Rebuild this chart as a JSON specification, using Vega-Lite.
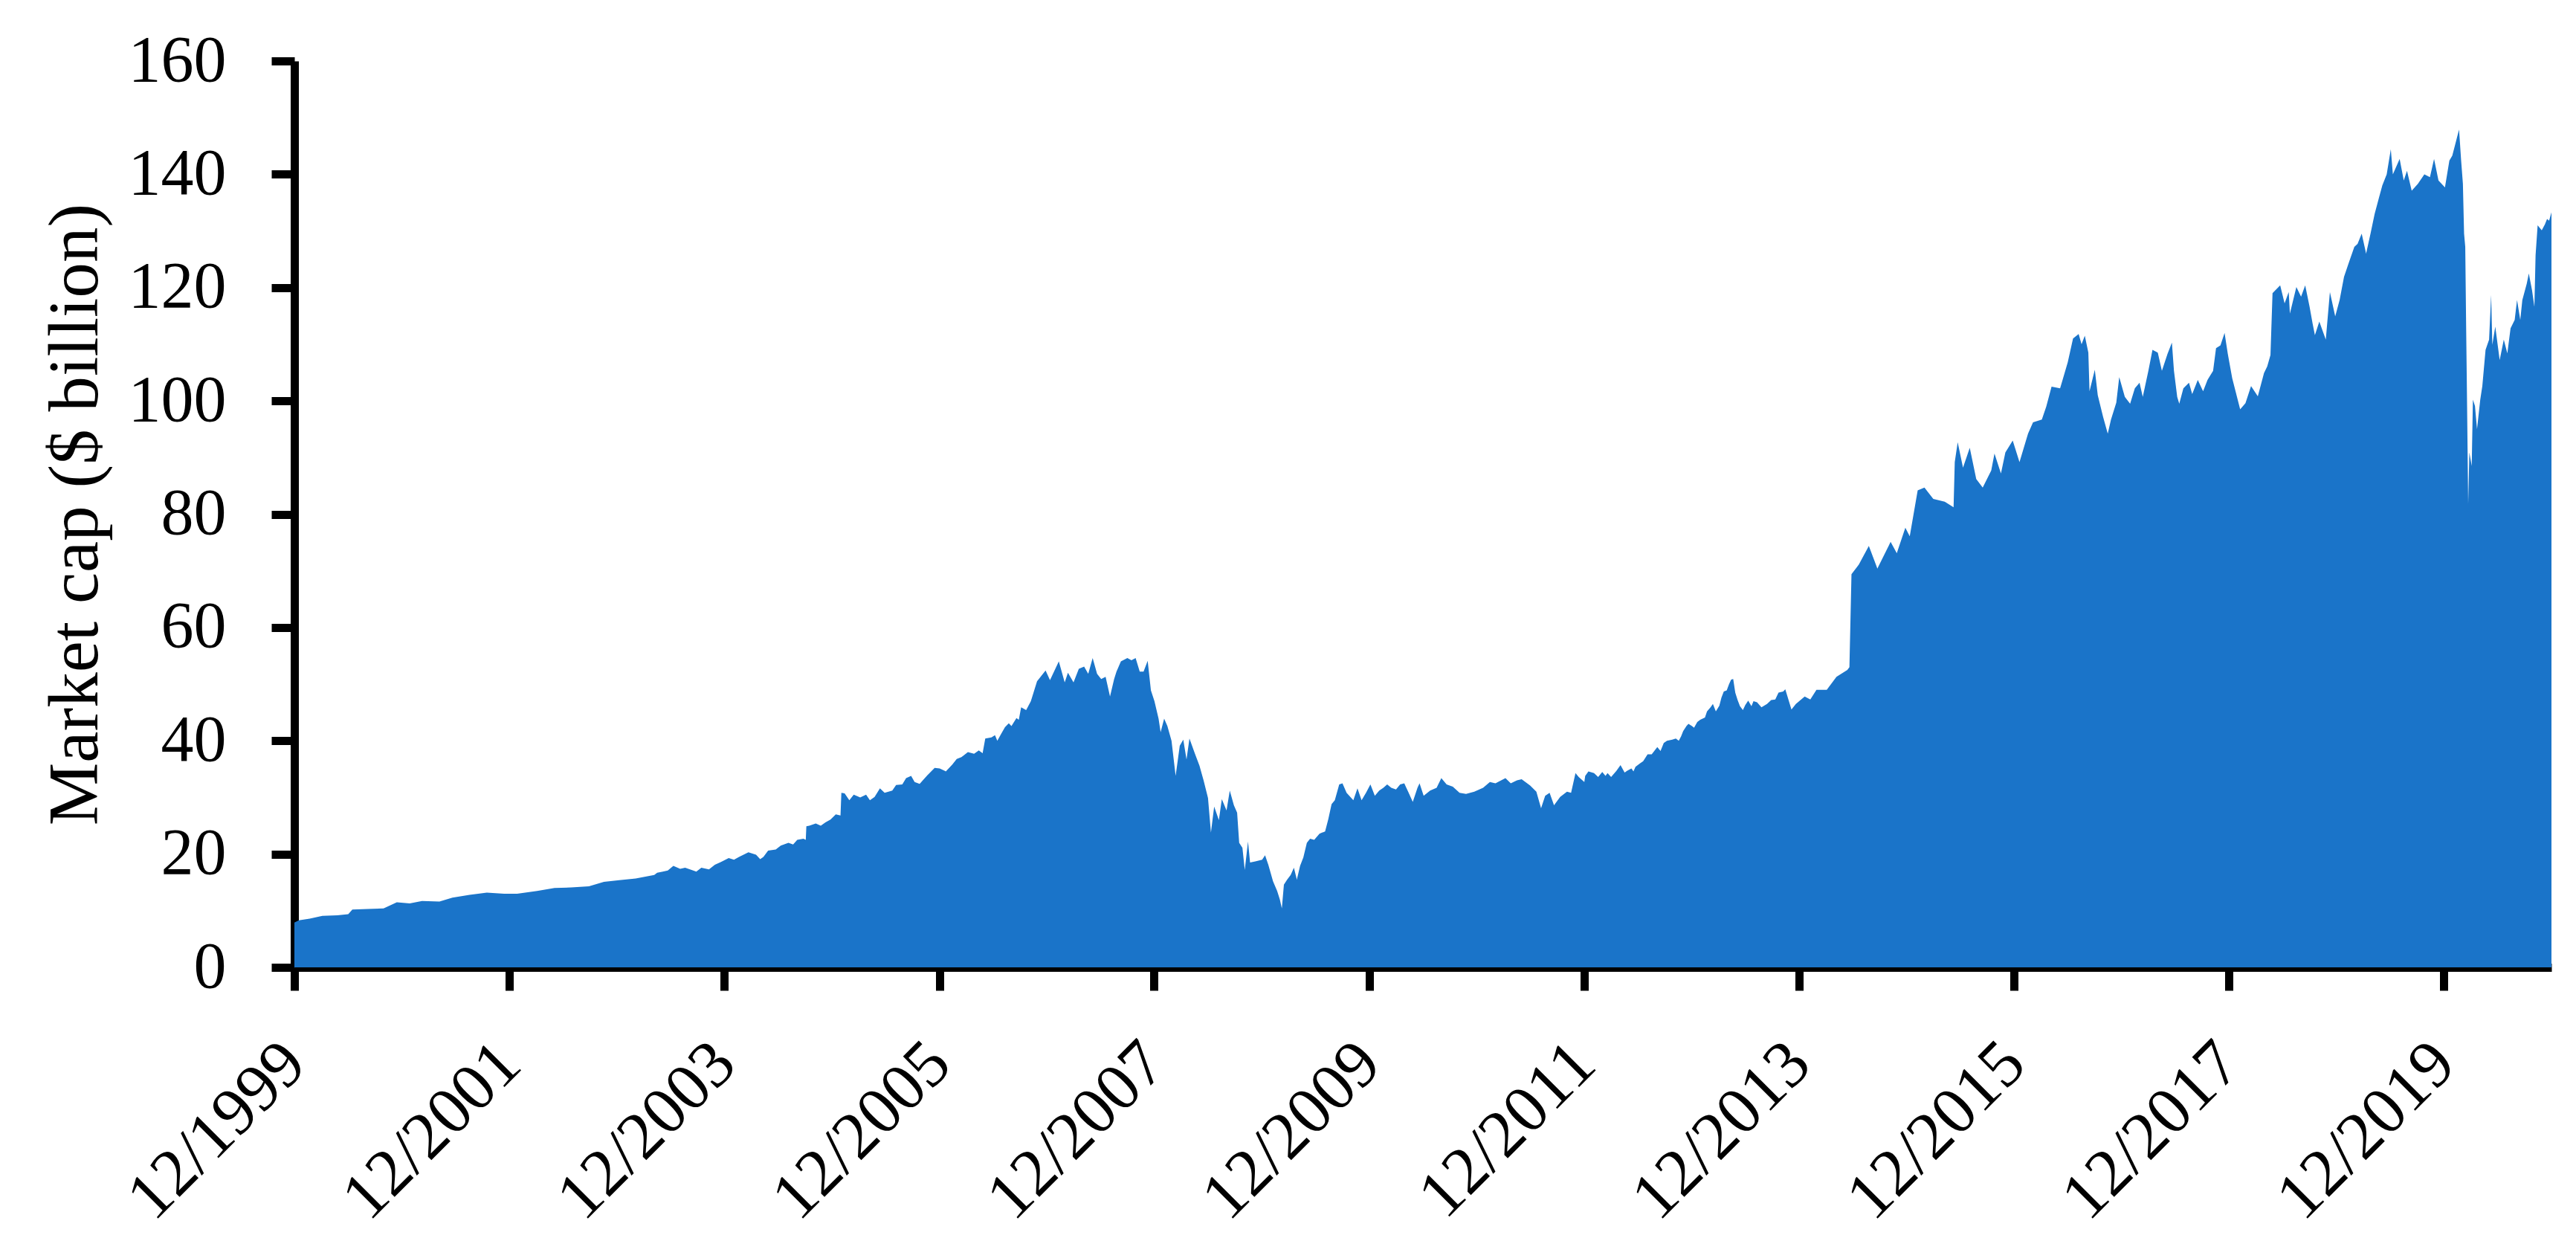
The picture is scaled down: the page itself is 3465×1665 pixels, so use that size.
{
  "$schema": "https://vega.github.io/schema/vega-lite/v6.json",
  "width": 3036,
  "height": 1219,
  "autosize": {"type": "none"},
  "padding": {"left": 396, "top": 82, "right": 33, "bottom": 364},
  "background": "white",
  "config": {"view": {"stroke": null}, "font": "Liberation Serif"},
  "data": {"values": [
    {"date": "1999-12-31", "cap": 7.9},
    {"date": "2000-01-15", "cap": 8.3},
    {"date": "2000-02-21", "cap": 8.6},
    {"date": "2000-04-04", "cap": 9.1},
    {"date": "2000-05-25", "cap": 9.2},
    {"date": "2000-07-01", "cap": 9.4},
    {"date": "2000-07-15", "cap": 10.2},
    {"date": "2000-09-05", "cap": 10.3},
    {"date": "2000-10-29", "cap": 10.4},
    {"date": "2000-12-13", "cap": 11.5},
    {"date": "2001-01-26", "cap": 11.3},
    {"date": "2001-03-09", "cap": 11.7},
    {"date": "2001-05-07", "cap": 11.6},
    {"date": "2001-06-20", "cap": 12.3},
    {"date": "2001-08-17", "cap": 12.8},
    {"date": "2001-10-15", "cap": 13.2},
    {"date": "2001-12-13", "cap": 13.0},
    {"date": "2002-01-26", "cap": 13.0},
    {"date": "2002-04-04", "cap": 13.5},
    {"date": "2002-06-02", "cap": 14.0},
    {"date": "2002-07-29", "cap": 14.1},
    {"date": "2002-09-27", "cap": 14.3},
    {"date": "2002-11-17", "cap": 15.1},
    {"date": "2003-01-08", "cap": 15.4},
    {"date": "2003-03-05", "cap": 15.7},
    {"date": "2003-05-07", "cap": 16.3},
    {"date": "2003-05-17", "cap": 16.7},
    {"date": "2003-06-05", "cap": 16.9},
    {"date": "2003-06-22", "cap": 17.1},
    {"date": "2003-07-11", "cap": 17.9},
    {"date": "2003-08-03", "cap": 17.4},
    {"date": "2003-08-20", "cap": 17.6},
    {"date": "2003-09-11", "cap": 17.2},
    {"date": "2003-09-27", "cap": 16.9},
    {"date": "2003-10-14", "cap": 17.6},
    {"date": "2003-11-09", "cap": 17.3},
    {"date": "2003-11-29", "cap": 18.1},
    {"date": "2003-12-20", "cap": 18.6},
    {"date": "2004-01-15", "cap": 19.3},
    {"date": "2004-02-02", "cap": 19.0},
    {"date": "2004-02-19", "cap": 19.5},
    {"date": "2004-03-22", "cap": 20.3},
    {"date": "2004-04-17", "cap": 19.9},
    {"date": "2004-05-01", "cap": 19.1},
    {"date": "2004-05-12", "cap": 19.5},
    {"date": "2004-05-28", "cap": 20.6},
    {"date": "2004-06-23", "cap": 20.8},
    {"date": "2004-07-10", "cap": 21.5},
    {"date": "2004-08-05", "cap": 22.0},
    {"date": "2004-08-21", "cap": 21.7},
    {"date": "2004-09-04", "cap": 22.5},
    {"date": "2004-09-25", "cap": 22.7},
    {"date": "2004-10-03", "cap": 22.5},
    {"date": "2004-10-05", "cap": 24.9},
    {"date": "2004-10-15", "cap": 25.0},
    {"date": "2004-11-06", "cap": 25.4},
    {"date": "2004-11-23", "cap": 25.0},
    {"date": "2004-12-09", "cap": 25.6},
    {"date": "2004-12-26", "cap": 26.1},
    {"date": "2005-01-13", "cap": 27.0},
    {"date": "2005-01-29", "cap": 26.8},
    {"date": "2005-02-01", "cap": 30.8},
    {"date": "2005-02-12", "cap": 30.7},
    {"date": "2005-02-28", "cap": 29.5},
    {"date": "2005-03-15", "cap": 30.5},
    {"date": "2005-04-06", "cap": 30.0},
    {"date": "2005-04-26", "cap": 30.5},
    {"date": "2005-05-09", "cap": 29.5},
    {"date": "2005-05-25", "cap": 30.1},
    {"date": "2005-06-12", "cap": 31.6},
    {"date": "2005-06-28", "cap": 30.8},
    {"date": "2005-07-24", "cap": 31.2},
    {"date": "2005-08-06", "cap": 32.2},
    {"date": "2005-08-27", "cap": 32.3},
    {"date": "2005-09-09", "cap": 33.4},
    {"date": "2005-09-26", "cap": 33.8},
    {"date": "2005-10-08", "cap": 32.7},
    {"date": "2005-10-25", "cap": 32.4},
    {"date": "2005-11-20", "cap": 33.9},
    {"date": "2005-12-15", "cap": 35.2},
    {"date": "2006-01-01", "cap": 35.1},
    {"date": "2006-01-22", "cap": 34.6},
    {"date": "2006-02-13", "cap": 35.8},
    {"date": "2006-02-28", "cap": 36.8},
    {"date": "2006-03-16", "cap": 37.1},
    {"date": "2006-04-07", "cap": 38.0},
    {"date": "2006-04-28", "cap": 37.7},
    {"date": "2006-05-14", "cap": 38.3},
    {"date": "2006-05-27", "cap": 37.8},
    {"date": "2006-06-05", "cap": 40.4},
    {"date": "2006-06-26", "cap": 40.6},
    {"date": "2006-07-08", "cap": 41.0},
    {"date": "2006-07-16", "cap": 40.0},
    {"date": "2006-07-29", "cap": 41.2},
    {"date": "2006-08-11", "cap": 42.4},
    {"date": "2006-08-24", "cap": 43.1},
    {"date": "2006-09-02", "cap": 42.6},
    {"date": "2006-09-19", "cap": 44.0},
    {"date": "2006-09-27", "cap": 43.7},
    {"date": "2006-10-05", "cap": 45.9},
    {"date": "2006-10-22", "cap": 45.4},
    {"date": "2006-11-07", "cap": 47.0},
    {"date": "2006-11-28", "cap": 50.5},
    {"date": "2006-12-27", "cap": 52.4},
    {"date": "2007-01-11", "cap": 50.7},
    {"date": "2007-02-10", "cap": 54.0},
    {"date": "2007-03-02", "cap": 50.3},
    {"date": "2007-03-13", "cap": 52.0},
    {"date": "2007-04-01", "cap": 50.3},
    {"date": "2007-04-19", "cap": 52.7},
    {"date": "2007-05-07", "cap": 53.1},
    {"date": "2007-05-21", "cap": 51.8},
    {"date": "2007-06-05", "cap": 54.6},
    {"date": "2007-06-20", "cap": 51.8},
    {"date": "2007-07-04", "cap": 50.9},
    {"date": "2007-07-19", "cap": 51.3},
    {"date": "2007-08-03", "cap": 47.8},
    {"date": "2007-08-17", "cap": 50.9},
    {"date": "2007-08-25", "cap": 52.2},
    {"date": "2007-09-09", "cap": 54.0},
    {"date": "2007-10-01", "cap": 54.6},
    {"date": "2007-10-15", "cap": 54.2},
    {"date": "2007-10-29", "cap": 54.6},
    {"date": "2007-11-12", "cap": 52.2},
    {"date": "2007-11-25", "cap": 52.2},
    {"date": "2007-12-09", "cap": 54.1},
    {"date": "2007-12-20", "cap": 48.9},
    {"date": "2008-01-01", "cap": 47.0},
    {"date": "2008-01-15", "cap": 43.9},
    {"date": "2008-01-22", "cap": 41.5},
    {"date": "2008-02-03", "cap": 43.9},
    {"date": "2008-02-14", "cap": 42.6},
    {"date": "2008-02-28", "cap": 40.0},
    {"date": "2008-03-13", "cap": 33.8},
    {"date": "2008-03-27", "cap": 39.1},
    {"date": "2008-04-08", "cap": 40.2},
    {"date": "2008-04-19", "cap": 36.7},
    {"date": "2008-04-29", "cap": 40.4},
    {"date": "2008-05-17", "cap": 37.8},
    {"date": "2008-06-02", "cap": 35.6},
    {"date": "2008-06-16", "cap": 33.0},
    {"date": "2008-07-01", "cap": 29.9},
    {"date": "2008-07-11", "cap": 23.8},
    {"date": "2008-07-22", "cap": 28.4},
    {"date": "2008-08-07", "cap": 26.0},
    {"date": "2008-08-17", "cap": 29.7},
    {"date": "2008-09-02", "cap": 27.7},
    {"date": "2008-09-13", "cap": 31.2},
    {"date": "2008-09-27", "cap": 28.6},
    {"date": "2008-10-08", "cap": 27.3},
    {"date": "2008-10-15", "cap": 22.0},
    {"date": "2008-10-26", "cap": 21.1},
    {"date": "2008-11-03", "cap": 17.2},
    {"date": "2008-11-14", "cap": 22.2},
    {"date": "2008-11-21", "cap": 18.5},
    {"date": "2008-12-09", "cap": 18.7},
    {"date": "2009-01-01", "cap": 19.0},
    {"date": "2009-01-11", "cap": 19.8},
    {"date": "2009-01-22", "cap": 18.1},
    {"date": "2009-02-07", "cap": 15.2},
    {"date": "2009-02-21", "cap": 13.5},
    {"date": "2009-03-02", "cap": 12.0},
    {"date": "2009-03-09", "cap": 10.4},
    {"date": "2009-03-16", "cap": 14.6},
    {"date": "2009-03-27", "cap": 15.5},
    {"date": "2009-04-08", "cap": 16.3},
    {"date": "2009-04-19", "cap": 17.6},
    {"date": "2009-04-29", "cap": 15.5},
    {"date": "2009-05-10", "cap": 17.9},
    {"date": "2009-05-21", "cap": 19.4},
    {"date": "2009-06-02", "cap": 22.0},
    {"date": "2009-06-13", "cap": 22.7},
    {"date": "2009-06-27", "cap": 22.5},
    {"date": "2009-07-15", "cap": 23.6},
    {"date": "2009-08-03", "cap": 24.0},
    {"date": "2009-08-14", "cap": 26.2},
    {"date": "2009-08-25", "cap": 28.8},
    {"date": "2009-09-05", "cap": 29.5},
    {"date": "2009-09-20", "cap": 32.3},
    {"date": "2009-10-01", "cap": 32.5},
    {"date": "2009-10-15", "cap": 30.8},
    {"date": "2009-11-07", "cap": 29.5},
    {"date": "2009-11-21", "cap": 31.6},
    {"date": "2009-12-05", "cap": 29.5},
    {"date": "2009-12-20", "cap": 30.8},
    {"date": "2010-01-04", "cap": 32.3},
    {"date": "2010-01-19", "cap": 30.3},
    {"date": "2010-02-03", "cap": 31.2},
    {"date": "2010-02-17", "cap": 31.7},
    {"date": "2010-03-02", "cap": 32.3},
    {"date": "2010-03-16", "cap": 31.7},
    {"date": "2010-04-01", "cap": 31.4},
    {"date": "2010-04-15", "cap": 32.3},
    {"date": "2010-04-29", "cap": 32.5},
    {"date": "2010-05-14", "cap": 30.8},
    {"date": "2010-05-28", "cap": 29.2},
    {"date": "2010-06-13", "cap": 31.7},
    {"date": "2010-06-20", "cap": 32.5},
    {"date": "2010-07-04", "cap": 30.3},
    {"date": "2010-07-26", "cap": 31.2},
    {"date": "2010-08-17", "cap": 31.7},
    {"date": "2010-09-02", "cap": 33.4},
    {"date": "2010-09-20", "cap": 32.3},
    {"date": "2010-10-11", "cap": 31.9},
    {"date": "2010-11-03", "cap": 30.8},
    {"date": "2010-11-25", "cap": 30.6},
    {"date": "2010-12-23", "cap": 31.0},
    {"date": "2011-01-22", "cap": 31.7},
    {"date": "2011-02-14", "cap": 32.7},
    {"date": "2011-03-05", "cap": 32.5},
    {"date": "2011-04-08", "cap": 33.4},
    {"date": "2011-04-26", "cap": 32.5},
    {"date": "2011-05-17", "cap": 33.0},
    {"date": "2011-06-02", "cap": 33.2},
    {"date": "2011-07-01", "cap": 32.1},
    {"date": "2011-07-22", "cap": 31.0},
    {"date": "2011-08-07", "cap": 28.1},
    {"date": "2011-08-21", "cap": 30.3},
    {"date": "2011-09-05", "cap": 30.8},
    {"date": "2011-09-20", "cap": 28.6},
    {"date": "2011-10-11", "cap": 30.1},
    {"date": "2011-11-03", "cap": 31.0},
    {"date": "2011-11-17", "cap": 30.8},
    {"date": "2011-12-02", "cap": 34.3},
    {"date": "2011-12-13", "cap": 33.6},
    {"date": "2012-01-01", "cap": 32.7},
    {"date": "2012-01-04", "cap": 33.8},
    {"date": "2012-01-15", "cap": 34.6},
    {"date": "2012-02-03", "cap": 34.3},
    {"date": "2012-02-17", "cap": 33.6},
    {"date": "2012-03-02", "cap": 34.5},
    {"date": "2012-03-13", "cap": 33.8},
    {"date": "2012-03-20", "cap": 34.3},
    {"date": "2012-04-01", "cap": 33.6},
    {"date": "2012-04-19", "cap": 34.7},
    {"date": "2012-05-03", "cap": 35.7},
    {"date": "2012-05-17", "cap": 34.4},
    {"date": "2012-05-25", "cap": 34.7},
    {"date": "2012-06-09", "cap": 35.1},
    {"date": "2012-06-16", "cap": 34.6},
    {"date": "2012-06-23", "cap": 35.4},
    {"date": "2012-07-08", "cap": 36.0},
    {"date": "2012-07-19", "cap": 36.4},
    {"date": "2012-08-03", "cap": 37.6},
    {"date": "2012-08-17", "cap": 37.6},
    {"date": "2012-09-05", "cap": 38.9},
    {"date": "2012-09-16", "cap": 38.2},
    {"date": "2012-09-27", "cap": 39.6},
    {"date": "2012-10-08", "cap": 40.0},
    {"date": "2012-10-26", "cap": 40.2},
    {"date": "2012-11-07", "cap": 40.4},
    {"date": "2012-11-17", "cap": 40.0},
    {"date": "2012-11-25", "cap": 40.8},
    {"date": "2012-12-02", "cap": 41.7},
    {"date": "2012-12-13", "cap": 42.6},
    {"date": "2012-12-20", "cap": 43.0},
    {"date": "2013-01-01", "cap": 42.6},
    {"date": "2013-01-08", "cap": 42.3},
    {"date": "2013-01-19", "cap": 43.3},
    {"date": "2013-01-29", "cap": 43.7},
    {"date": "2013-02-14", "cap": 44.1},
    {"date": "2013-02-21", "cap": 45.2},
    {"date": "2013-03-05", "cap": 45.9},
    {"date": "2013-03-13", "cap": 46.5},
    {"date": "2013-03-23", "cap": 45.2},
    {"date": "2013-04-04", "cap": 46.2},
    {"date": "2013-04-11", "cap": 47.6},
    {"date": "2013-04-19", "cap": 48.7},
    {"date": "2013-04-29", "cap": 48.9},
    {"date": "2013-05-07", "cap": 50.0},
    {"date": "2013-05-14", "cap": 50.8},
    {"date": "2013-05-21", "cap": 50.9},
    {"date": "2013-05-28", "cap": 48.5},
    {"date": "2013-06-05", "cap": 47.2},
    {"date": "2013-06-13", "cap": 46.1},
    {"date": "2013-06-23", "cap": 45.4},
    {"date": "2013-07-01", "cap": 46.3},
    {"date": "2013-07-11", "cap": 47.1},
    {"date": "2013-07-22", "cap": 46.1},
    {"date": "2013-07-29", "cap": 47.0},
    {"date": "2013-08-10", "cap": 46.8},
    {"date": "2013-08-25", "cap": 45.9},
    {"date": "2013-09-13", "cap": 46.5},
    {"date": "2013-09-27", "cap": 47.2},
    {"date": "2013-10-11", "cap": 47.3},
    {"date": "2013-10-22", "cap": 48.5},
    {"date": "2013-11-07", "cap": 48.7},
    {"date": "2013-11-14", "cap": 49.1},
    {"date": "2013-12-05", "cap": 45.5},
    {"date": "2013-12-20", "cap": 46.5},
    {"date": "2014-01-19", "cap": 47.8},
    {"date": "2014-02-07", "cap": 47.3},
    {"date": "2014-02-28", "cap": 49.0},
    {"date": "2014-04-04", "cap": 49.0},
    {"date": "2014-05-07", "cap": 51.3},
    {"date": "2014-06-13", "cap": 52.5},
    {"date": "2014-06-20", "cap": 53.0},
    {"date": "2014-06-27", "cap": 69.4},
    {"date": "2014-07-22", "cap": 71.1},
    {"date": "2014-08-25", "cap": 74.4},
    {"date": "2014-09-23", "cap": 70.4},
    {"date": "2014-11-07", "cap": 75.1},
    {"date": "2014-11-28", "cap": 73.1},
    {"date": "2014-12-27", "cap": 77.6},
    {"date": "2015-01-11", "cap": 76.1},
    {"date": "2015-02-07", "cap": 84.2},
    {"date": "2015-03-02", "cap": 84.7},
    {"date": "2015-04-01", "cap": 82.7},
    {"date": "2015-05-10", "cap": 82.2},
    {"date": "2015-06-09", "cap": 81.2},
    {"date": "2015-06-13", "cap": 89.2},
    {"date": "2015-06-23", "cap": 92.7},
    {"date": "2015-07-11", "cap": 88.2},
    {"date": "2015-08-03", "cap": 91.7},
    {"date": "2015-08-25", "cap": 86.2},
    {"date": "2015-09-16", "cap": 84.7},
    {"date": "2015-10-15", "cap": 87.7},
    {"date": "2015-10-26", "cap": 90.7},
    {"date": "2015-11-17", "cap": 87.2},
    {"date": "2015-12-02", "cap": 90.9},
    {"date": "2015-12-27", "cap": 93.0},
    {"date": "2016-01-19", "cap": 89.2},
    {"date": "2016-02-17", "cap": 94.2},
    {"date": "2016-03-05", "cap": 96.2},
    {"date": "2016-04-04", "cap": 96.7},
    {"date": "2016-04-19", "cap": 99.0},
    {"date": "2016-05-07", "cap": 102.5},
    {"date": "2016-06-05", "cap": 102.2},
    {"date": "2016-07-01", "cap": 106.8},
    {"date": "2016-07-19", "cap": 111.0},
    {"date": "2016-08-07", "cap": 111.8},
    {"date": "2016-08-17", "cap": 110.0},
    {"date": "2016-08-28", "cap": 111.5},
    {"date": "2016-09-09", "cap": 108.5},
    {"date": "2016-09-13", "cap": 101.7},
    {"date": "2016-10-01", "cap": 105.5},
    {"date": "2016-10-11", "cap": 101.0},
    {"date": "2016-10-29", "cap": 97.2},
    {"date": "2016-11-14", "cap": 94.2},
    {"date": "2016-11-25", "cap": 96.7},
    {"date": "2016-12-13", "cap": 99.7},
    {"date": "2016-12-23", "cap": 104.2},
    {"date": "2017-01-11", "cap": 100.7},
    {"date": "2017-01-29", "cap": 99.5},
    {"date": "2017-02-14", "cap": 102.2},
    {"date": "2017-03-02", "cap": 103.2},
    {"date": "2017-03-13", "cap": 100.7},
    {"date": "2017-04-01", "cap": 105.3},
    {"date": "2017-04-15", "cap": 109.0},
    {"date": "2017-05-03", "cap": 108.5},
    {"date": "2017-05-17", "cap": 105.3},
    {"date": "2017-06-05", "cap": 108.3},
    {"date": "2017-06-20", "cap": 110.3},
    {"date": "2017-06-27", "cap": 105.3},
    {"date": "2017-07-08", "cap": 100.7},
    {"date": "2017-07-15", "cap": 99.5},
    {"date": "2017-07-29", "cap": 102.2},
    {"date": "2017-08-17", "cap": 103.2},
    {"date": "2017-08-28", "cap": 101.2},
    {"date": "2017-09-16", "cap": 103.7},
    {"date": "2017-10-04", "cap": 101.7},
    {"date": "2017-10-19", "cap": 103.7},
    {"date": "2017-11-07", "cap": 105.3},
    {"date": "2017-11-17", "cap": 109.3},
    {"date": "2017-12-02", "cap": 109.8},
    {"date": "2017-12-16", "cap": 112.0},
    {"date": "2017-12-27", "cap": 108.3},
    {"date": "2018-01-11", "cap": 104.0},
    {"date": "2018-02-07", "cap": 98.5},
    {"date": "2018-02-25", "cap": 99.6},
    {"date": "2018-03-16", "cap": 102.6},
    {"date": "2018-04-08", "cap": 100.8},
    {"date": "2018-04-29", "cap": 104.9},
    {"date": "2018-05-10", "cap": 106.1},
    {"date": "2018-05-21", "cap": 108.1},
    {"date": "2018-05-28", "cap": 119.0},
    {"date": "2018-06-23", "cap": 120.4},
    {"date": "2018-07-08", "cap": 117.2},
    {"date": "2018-07-22", "cap": 119.2},
    {"date": "2018-07-26", "cap": 115.4},
    {"date": "2018-08-17", "cap": 120.1},
    {"date": "2018-09-02", "cap": 118.4},
    {"date": "2018-09-16", "cap": 120.4},
    {"date": "2018-10-01", "cap": 116.6},
    {"date": "2018-10-11", "cap": 113.7},
    {"date": "2018-10-19", "cap": 111.6},
    {"date": "2018-11-03", "cap": 114.0},
    {"date": "2018-11-25", "cap": 110.8},
    {"date": "2018-12-09", "cap": 119.2},
    {"date": "2018-12-27", "cap": 114.9},
    {"date": "2019-01-11", "cap": 117.8},
    {"date": "2019-01-26", "cap": 121.9},
    {"date": "2019-02-10", "cap": 124.2},
    {"date": "2019-03-02", "cap": 127.2},
    {"date": "2019-03-13", "cap": 127.7},
    {"date": "2019-03-27", "cap": 129.5},
    {"date": "2019-04-11", "cap": 126.0},
    {"date": "2019-04-26", "cap": 129.5},
    {"date": "2019-05-10", "cap": 133.0},
    {"date": "2019-05-25", "cap": 135.9},
    {"date": "2019-06-05", "cap": 138.0},
    {"date": "2019-06-20", "cap": 140.0},
    {"date": "2019-07-04", "cap": 144.4},
    {"date": "2019-07-11", "cap": 140.0},
    {"date": "2019-08-03", "cap": 142.7},
    {"date": "2019-08-17", "cap": 138.9},
    {"date": "2019-08-28", "cap": 140.6},
    {"date": "2019-09-13", "cap": 137.1},
    {"date": "2019-10-04", "cap": 138.3},
    {"date": "2019-10-26", "cap": 140.0},
    {"date": "2019-11-14", "cap": 139.5},
    {"date": "2019-11-28", "cap": 142.7},
    {"date": "2019-12-13", "cap": 138.9},
    {"date": "2020-01-04", "cap": 137.7},
    {"date": "2020-01-19", "cap": 142.4},
    {"date": "2020-01-29", "cap": 143.3},
    {"date": "2020-02-14", "cap": 146.5},
    {"date": "2020-02-21", "cap": 147.9},
    {"date": "2020-02-28", "cap": 142.4},
    {"date": "2020-03-05", "cap": 138.3},
    {"date": "2020-03-09", "cap": 129.5},
    {"date": "2020-03-13", "cap": 127.2},
    {"date": "2020-03-16", "cap": 113.1},
    {"date": "2020-03-18", "cap": 104.6},
    {"date": "2020-03-23", "cap": 81.8},
    {"date": "2020-03-27", "cap": 90.9},
    {"date": "2020-04-04", "cap": 88.5},
    {"date": "2020-04-08", "cap": 100.2},
    {"date": "2020-04-15", "cap": 99.1},
    {"date": "2020-04-22", "cap": 95.0},
    {"date": "2020-05-03", "cap": 100.2},
    {"date": "2020-05-10", "cap": 102.6},
    {"date": "2020-05-21", "cap": 109.0},
    {"date": "2020-06-02", "cap": 110.8},
    {"date": "2020-06-09", "cap": 118.7},
    {"date": "2020-06-13", "cap": 109.9},
    {"date": "2020-06-23", "cap": 113.1},
    {"date": "2020-07-08", "cap": 107.2},
    {"date": "2020-07-22", "cap": 110.8},
    {"date": "2020-08-03", "cap": 108.4},
    {"date": "2020-08-14", "cap": 112.8},
    {"date": "2020-08-28", "cap": 114.3},
    {"date": "2020-09-05", "cap": 117.8},
    {"date": "2020-09-16", "cap": 114.3},
    {"date": "2020-09-23", "cap": 117.8},
    {"date": "2020-10-08", "cap": 120.7},
    {"date": "2020-10-15", "cap": 122.5},
    {"date": "2020-10-26", "cap": 119.5},
    {"date": "2020-11-03", "cap": 116.6},
    {"date": "2020-11-07", "cap": 125.7},
    {"date": "2020-11-14", "cap": 131.0},
    {"date": "2020-11-28", "cap": 130.1},
    {"date": "2020-12-09", "cap": 131.2},
    {"date": "2020-12-16", "cap": 132.1},
    {"date": "2020-12-23", "cap": 131.8},
    {"date": "2020-12-31", "cap": 133.3}
  ]},
  "mark": {"type": "area", "color": "#1a74c9", "interpolate": "linear"},
  "encoding": {
    "x": {
      "field": "date",
      "type": "temporal",
      "scale": {"domain": [{"year": 1999, "month": 12, "date": 31}, {"year": 2020, "month": 12, "date": 31}]},
      "axis": {
        "title": null,
        "values": [
          {"year": 1999, "month": 12, "date": 31},
          {"year": 2001, "month": 12, "date": 31},
          {"year": 2003, "month": 12, "date": 31},
          {"year": 2005, "month": 12, "date": 31},
          {"year": 2007, "month": 12, "date": 31},
          {"year": 2009, "month": 12, "date": 31},
          {"year": 2011, "month": 12, "date": 31},
          {"year": 2013, "month": 12, "date": 31},
          {"year": 2015, "month": 12, "date": 31},
          {"year": 2017, "month": 12, "date": 31},
          {"year": 2019, "month": 12, "date": 31}
        ],
        "format": "%m/%Y",
        "labelAngle": -45,
        "labelAlign": "right",
        "labelBaseline": "middle",
        "labelFont": "Liberation Serif",
        "labelFontSize": 90,
        "labelColor": "black",
        "labelPadding": 84,
        "labelLimit": 0,
        "labelFlush": false,
        "labelOverlap": false,
        "tickSize": 31,
        "tickWidth": 11,
        "tickColor": "black",
        "domainColor": "black",
        "domainWidth": 11,
        "grid": false
      }
    },
    "y": {
      "field": "cap",
      "type": "quantitative",
      "scale": {"domain": [0, 160]},
      "axis": {
        "title": "Market cap ($ billion)",
        "titleFont": "Liberation Serif",
        "titleFontSize": 95,
        "titleFontWeight": "normal",
        "titleColor": "black",
        "titlePadding": 46,
        "values": [0, 20, 40, 60, 80, 100, 120, 140, 160],
        "labelFont": "Liberation Serif",
        "labelFontSize": 88,
        "labelColor": "black",
        "labelPadding": 61,
        "labelLimit": 0,
        "labelFlush": false,
        "labelOverlap": false,
        "tickSize": 31,
        "tickWidth": 11,
        "tickColor": "black",
        "domainColor": "black",
        "domainWidth": 11,
        "grid": false
      }
    }
  }
}
